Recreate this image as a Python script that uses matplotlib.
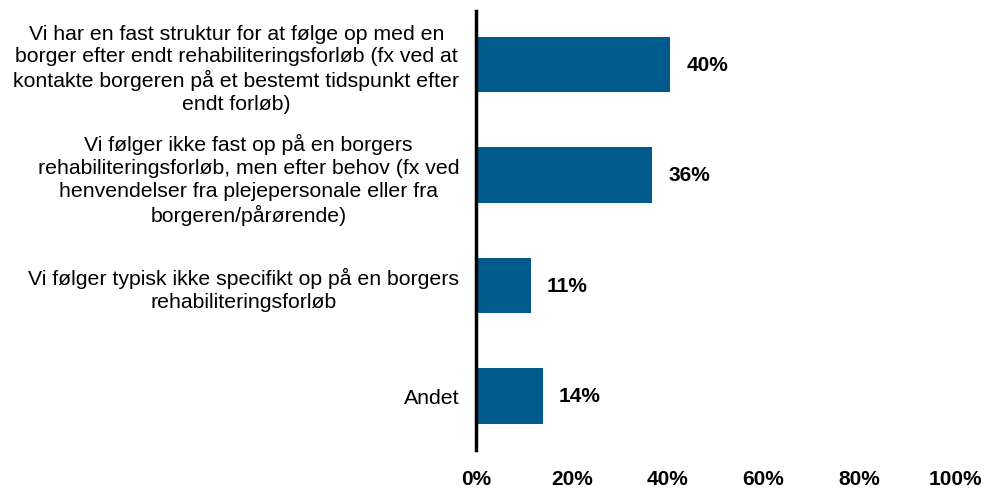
import numpy as np
import matplotlib.pyplot as plt

plt.rcParams['font.family'] = ['Liberation Sans', 'DejaVu Sans']

# answer categories (top to bottom) and share of respondents (%)
categories = [
    'Vi har en fast struktur for at følge op med en\nborger efter endt rehabiliteringsforløb (fx ved at\nkontakte borgeren på et bestemt tidspunkt efter\nendt forløb)',
    'Vi følger ikke fast op på en borgers\nrehabiliteringsforløb, men efter behov (fx ved\nhenvendelser fra plejepersonale eller fra\nborgeren/pårørende)',
    'Vi følger typisk ikke specifikt op på en borgers\nrehabiliteringsforløb',
    'Andet',
]
values = [40.6, 36.8, 11.5, 14.0]
labels = ['40%', '36%', '11%', '14%']
xticks = [0, 20, 40, 60, 80, 100]
xticklabels = ['0%', '20%', '40%', '60%', '80%', '100%']

fig = plt.figure(figsize=(9.97, 4.89), dpi=100)
ax = fig.add_axes([0.4774, 0.0777, 0.9579 - 0.4774, 0.9755 - 0.0777])

y = np.arange(len(categories))
ax.barh(y, values, height=0.5, color='#005A8B')

for yi, v, lab in zip(y, values, labels):
    ax.text(v + 3.3, yi, lab, va='center', ha='left',
            fontsize=15, fontweight='bold', color='black')

ax.set_ylim(3.489, -0.484)
ax.set_xlim(0, 100)
ax.set_yticks(y)
ax.set_yticklabels(categories, fontsize=15.3, linespacing=1.24)
for t in ax.get_yticklabels():
    t.set_multialignment('center')
ax.set_xticks(xticks)
ax.set_xticklabels(xticklabels, fontsize=15, fontweight='bold')
ax.tick_params(axis='y', length=0, pad=12)
ax.tick_params(axis='x', length=0, pad=14)

for side in ['top', 'right', 'bottom']:
    ax.spines[side].set_visible(False)
ax.spines['left'].set_linewidth(2.5)
ax.spines['left'].set_color('black')

fig.savefig('out.png', dpi=100)
